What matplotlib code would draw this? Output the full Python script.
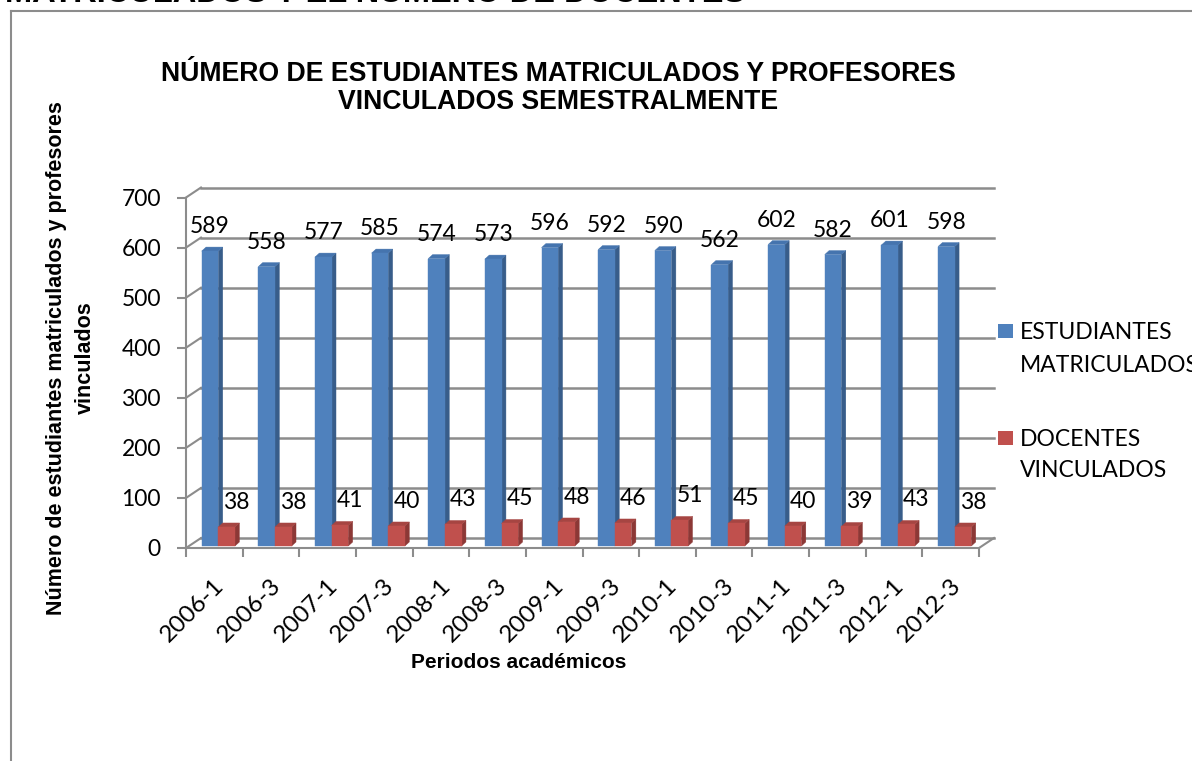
import numpy as np
import matplotlib
matplotlib.use("Agg")
import matplotlib.pyplot as plt
import matplotlib.transforms as mtransforms
from matplotlib.patches import Polygon, Rectangle
from matplotlib.lines import Line2D

# ---------------- data ----------------
periodos = ["2006-1", "2006-3", "2007-1", "2007-3", "2008-1", "2008-3", "2009-1",
            "2009-3", "2010-1", "2010-3", "2011-1", "2011-3", "2012-1", "2012-3"]
estudiantes = [589, 558, 577, 585, 574, 573, 596, 592, 590, 562, 602, 582, 601, 598]
docentes = [38, 38, 41, 40, 43, 45, 48, 46, 51, 45, 40, 39, 43, 38]
y_ticks = [0, 100, 200, 300, 400, 500, 600, 700]
serie_labels = [["ESTUDIANTES", "MATRICULADOS"], ["DOCENTES", "VINCULADOS"]]
titulo = "NÚMERO DE ESTUDIANTES MATRICULADOS Y PROFESORES\nVINCULADOS SEMESTRALMENTE"
encabezado = "MATRICULADOS Y EL NÚMERO DE DOCENTES"
x_title = "Periodos académicos"
y_title = "Número de estudiantes matriculados y profesores\nvinculados"

# ---------------- style ----------------
W, H = 1192, 761
PX = 72.0 / 100.0  # points per pixel at dpi 100
plt.rcParams["font.family"] = ["Lato", "DejaVu Sans"]
BOLD = ["Liberation Sans", "DejaVu Sans"]
GRID = "#8c8c8c"
BLUE = ("#4f81bd", "#385d8a", "#4574ae")   # front, side, top
RED = ("#c0504d", "#8c3836", "#a64542")

fig = plt.figure(figsize=(W / 100, H / 100), dpi=100)

# chart area frame (partially visible)
fig.add_artist(Line2D([10.5 / W, 10.5 / W], [0, (H - 10.5) / H], color=GRID, lw=1.5))
fig.add_artist(Line2D([10.5 / W, 1], [(H - 10.5) / H] * 2, color=GRID, lw=1.5))
# truncated heading from the document above
fig.text(5 / W, (H - 2.5) / H, encabezado, fontsize=23.5, fontweight="bold",
         family=BOLD, va="baseline", ha="left")

# ---------------- axes (front plane of the 3-D box) ----------------
x0p, x1p, y0p, y1p = 186, 979, 548, 197.5
ax = fig.add_axes([x0p / W, (H - y0p) / H, (x1p - x0p) / W, (y0p - y1p) / H])
ax.set_xlim(-0.5, len(periodos) - 0.5)
ax.set_ylim(0, 700)
ax.set_autoscale_on(False)
ax.patch.set_visible(False)
for s in ("top", "right"):
    ax.spines[s].set_visible(False)
for s in ("left", "bottom"):
    ax.spines[s].set_color(GRID)
    ax.spines[s].set_linewidth(1.5)

ax.set_yticks(y_ticks)
ax.tick_params(axis="y", length=9 * PX, width=1.5, color=GRID, pad=16 * PX,
               labelsize=16.5)
ax.set_xticks(np.arange(len(periodos)))
ax.set_xticklabels(periodos, rotation=45, ha="right", rotation_mode="anchor")
ax.set_xticks(np.arange(len(periodos) + 1) - 0.5, minor=True)
ax.tick_params(axis="x", which="major", length=0, pad=27 * PX, labelsize=17.5)
ax.tick_params(axis="x", which="minor", length=9 * PX, width=1.5, color=GRID)
shift = mtransforms.ScaledTranslation(-1 / 100, 0, fig.dpi_scale_trans)
for lab in ax.get_xticklabels():
    lab.set_transform(lab.get_transform() + shift)

ident = mtransforms.IdentityTransform()


def disp(x, v, ox=0.0, oy=0.0):
    p = ax.transData.transform((x, v))
    return (p[0] + ox, p[1] + oy)


# back wall / left wall / floor
WX, WY = 15, 10
xa, xb = -0.5, len(periodos) - 0.5
for v in y_ticks:
    a, b = disp(xa, v, WX, WY), disp(xb, v, WX, WY)
    ax.add_line(Line2D([a[0], b[0]], [a[1], b[1]], transform=ident, color=GRID,
                       lw=1.8, clip_on=False, zorder=0.5))
    f = disp(xa, v)
    ax.add_line(Line2D([f[0], a[0]], [f[1], a[1]], transform=ident, color=GRID,
                       lw=1.5, clip_on=False, zorder=0.5))
f, b = disp(xb, 0), disp(xb, 0, WX, WY)
ax.add_line(Line2D([f[0], b[0]], [f[1], b[1]], transform=ident, color=GRID,
                   lw=1.5, clip_on=False, zorder=0.5))

# ---------------- 3-D bars ----------------
BW = 0.294          # bar width in category units
BOX, BOY = 4, 2     # bar front plane offset (px)
DX, DY = 4.4, 4     # bar depth (px)


def bar3d(xl, val, cols):
    xr = xl + BW
    front = [disp(xl, 0, BOX, BOY), disp(xr, 0, BOX, BOY),
             disp(xr, val, BOX, BOY), disp(xl, val, BOX, BOY)]
    side = [disp(xr, 0, BOX, BOY), disp(xr, 0, BOX + DX, BOY + DY),
            disp(xr, val, BOX + DX, BOY + DY), disp(xr, val, BOX, BOY)]
    top = [disp(xl, val, BOX, BOY), disp(xr, val, BOX, BOY),
           disp(xr, val, BOX + DX, BOY + DY), disp(xl, val, BOX + DX, BOY + DY)]
    for pts, c in ((side, cols[1]), (top, cols[2]), (front, cols[0])):
        ax.add_patch(Polygon(pts, closed=True, transform=ident, facecolor=c,
                             edgecolor=c, lw=0.3, clip_on=False, zorder=2))


for i in range(len(periodos)):
    bar3d(i - BW, estudiantes[i], BLUE)
    bar3d(i, docentes[i], RED)
    ax.annotate(str(estudiantes[i]), (i - BW / 2, estudiantes[i]),
                xytext=(BOX, BOY + 18), textcoords="offset pixels",
                ha="center", va="baseline", fontsize=16.5, zorder=3,
                annotation_clip=False)
    ax.annotate(str(docentes[i]), (i + BW / 2, docentes[i]),
                xytext=(BOX + 10, BOY + 18), textcoords="offset pixels",
                ha="center", va="baseline", fontsize=16.5, zorder=3,
                annotation_clip=False)

# ---------------- titles ----------------
fig.text(558 / W, (H - 88) / H, titulo, ha="center", va="center", fontsize=19.2,
         fontweight="bold", family=BOLD, linespacing=1.12)
fig.text(519 / W, (H - 668) / H, x_title, ha="center", va="baseline",
         fontsize=15, fontweight="bold", family=BOLD)
fig.text(71 / W, (H - 358) / H, y_title, ha="center", va="center", rotation=90,
         fontsize=15.5, fontweight="bold", family=BOLD, linespacing=1.45)

# ---------------- legend ----------------
leg_rows = [(324, 339, 372), (431, 446, 477)]
for (sq_top, l1, l2), cols, labs in zip(leg_rows, (BLUE, RED), serie_labels):
    fig.add_artist(Rectangle((998 / W, (H - sq_top - 14) / H), 15 / W, 14 / H,
                             facecolor=cols[0], edgecolor="none",
                             transform=fig.transFigure))
    fig.text(1020 / W, (H - l1) / H, labs[0], fontsize=16.5, va="baseline")
    fig.text(1020 / W, (H - l2) / H, labs[1], fontsize=16.5, va="baseline")

fig.savefig("out.png", dpi=100)
